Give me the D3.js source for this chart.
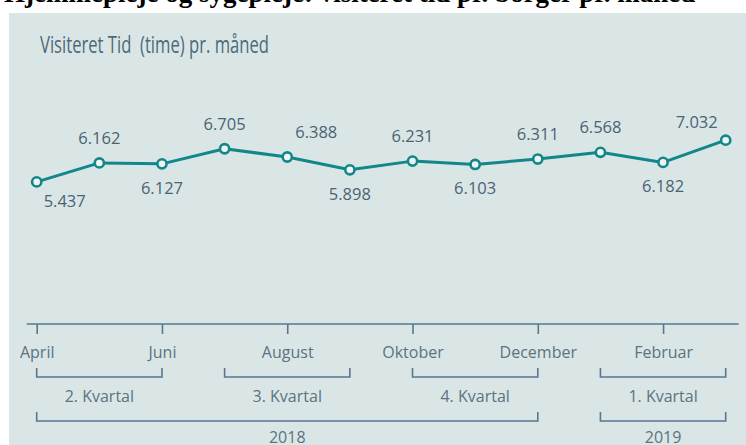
<!DOCTYPE html>
<html>
<head>
<meta charset="utf-8">
<script src="https://cdn.jsdelivr.net/npm/d3@7"></script>
<style>
  html, body { margin: 0; padding: 0; background: #ffffff; }
  svg { display: block; }
</style>
</head>
<body>
<svg id="chart" width="746" height="445"></svg>
<script>
// ---- data ----
const headerText = "Hjemmepleje og sygepleje: visiteret tid pr. borger pr. måned";
const title = "Visiteret Tid  (time) pr. måned";
const months = ["April","Maj","Juni","Juli","August","September","Oktober","November","December","Januar","Februar","Marts"];
const values = [5437, 6162, 6127, 6705, 6388, 5898, 6231, 6103, 6311, 6568, 6182, 7032];
const tickMonths = ["April","Juni","August","Oktober","December","Februar"];
const quarterLabels = ["2. Kvartal","3. Kvartal","4. Kvartal","1. Kvartal"];
const quarterFirst = ["April","Juli","Oktober","Januar"];
const quarterLast = ["Juni","September","December","Marts"];
const yearLabels = ["2018","2019"];
const yearFirst = ["April","Januar"];
const yearLast = ["December","Marts"];

// ---- styles ----
const panelBg = "#dae6e6";
const lineColor = "#12878a";
const labelColor = "#4a6373";
const axisText = "#5b7381";
const bracketColor = "#587690";
const font = "'Open Sans', 'Noto Sans', sans-serif";

const svg = d3.select("#chart");
const W = 746, H = 445;

svg.append("rect").attr("x", 0).attr("y", 0).attr("width", W).attr("height", H).attr("fill", "#ffffff");

// clipped header line (bold serif, cut off at the top)
svg.append("text")
  .attr("x", 4).attr("y", 2)
  .attr("font-family", "'Liberation Serif', 'DejaVu Serif', serif")
  .attr("font-weight", "bold")
  .attr("font-size", 27)
  .attr("fill", "#000")
  .text(headerText);

svg.append("rect").attr("x", 9).attr("y", 13).attr("width", W - 9).attr("height", H - 13).attr("fill", panelBg);

svg.append("text")
  .attr("x", 40).attr("y", 53)
  .attr("font-family", font)
  .attr("font-size", 24)
  .attr("fill", "#4d6a79")
  .attr("textLength", 229)
  .attr("lengthAdjust", "spacingAndGlyphs")
  .style("white-space", "pre")
  .text(title);

// ---- scales ----
const x = d3.scalePoint().domain(months).range([36.7, 725.7]).padding(0);
const y = d3.scaleLinear().domain([0, 10000]).range([324, 62.6]);

const da = d3.formatLocale({decimal: ",", thousands: ".", grouping: [3], currency: ["", " kr."]});
const fmt = da.format(",d");

// ---- line ----
const line = d3.line().x((d, i) => x(months[i])).y(d => y(d));
svg.append("path")
  .datum(values)
  .attr("d", line)
  .attr("fill", "none")
  .attr("stroke", lineColor)
  .attr("stroke-width", 3)
  .attr("stroke-linejoin", "round");

svg.append("g").selectAll("circle")
  .data(values)
  .join("circle")
  .attr("cx", (d, i) => x(months[i]))
  .attr("cy", d => y(d))
  .attr("r", 4.6)
  .attr("fill", "#eef4f4")
  .attr("stroke", lineColor)
  .attr("stroke-width", 2.6);

// ---- data labels ----
const isLocalMin = i => values[i] < (i > 0 ? values[i - 1] : Infinity) && values[i] < (i < values.length - 1 ? values[i + 1] : Infinity);
const nudge = {0: {dx: 28, dy: -5}, 4: {dx: 29, dy: 0}, 11: {dx: -29, dy: 7}};
svg.append("g").selectAll("text")
  .data(values)
  .join("text")
  .attr("x", (d, i) => x(months[i]) + (nudge[i] ? nudge[i].dx : 0))
  .attr("y", (d, i) => y(d) + (isLocalMin(i) ? 30 : -19) + (nudge[i] ? nudge[i].dy : 0))
  .attr("text-anchor", "middle")
  .attr("font-family", font)
  .attr("font-size", 16.5)
  .attr("fill", labelColor)
  .text(d => fmt(d));

// ---- x axis ----
const axisY = 324;
const [r0, r1] = x.range();
svg.append("line")
  .attr("x1", r0 - 10).attr("x2", r1 + 13)
  .attr("y1", axisY).attr("y2", axisY)
  .attr("stroke", bracketColor).attr("stroke-width", 1.6);

const axis = d3.axisBottom(x).tickValues(tickMonths).tickSize(10).tickPadding(13).tickSizeOuter(0);
const ag = svg.append("g").attr("transform", `translate(0,${axisY})`).call(axis);
ag.select(".domain").remove();
ag.selectAll(".tick line").attr("stroke", bracketColor).attr("stroke-width", 1.6);
ag.selectAll(".tick text")
  .attr("font-family", font)
  .attr("font-size", 16)
  .attr("fill", axisText);

// ---- brackets ----
function brackets(labels, first, last, yLine, yText) {
  const g = svg.append("g");
  g.selectAll("path")
    .data(labels)
    .join("path")
    .attr("d", (d, i) => {
      const a = x(first[i]), b = x(last[i]);
      return `M${a},${yLine - 9}V${yLine}H${b}V${yLine - 9}`;
    })
    .attr("fill", "none")
    .attr("stroke", bracketColor)
    .attr("stroke-width", 1.6);
  g.selectAll("text")
    .data(labels)
    .join("text")
    .attr("x", (d, i) => (x(first[i]) + x(last[i])) / 2)
    .attr("y", yText)
    .attr("text-anchor", "middle")
    .attr("font-family", font)
    .attr("font-size", 16)
    .attr("fill", axisText)
    .text(d => d);
}
brackets(quarterLabels, quarterFirst, quarterLast, 377, 402);
brackets(yearLabels, yearFirst, yearLast, 421, 443);
</script>
</body>
</html>
